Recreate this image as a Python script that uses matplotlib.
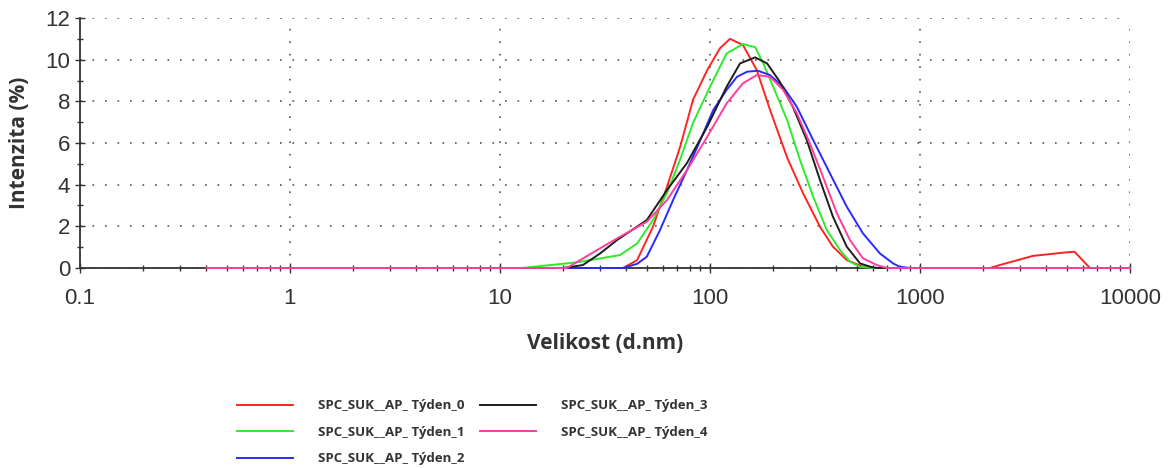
import numpy as np
import matplotlib
matplotlib.use("Agg")
import matplotlib.pyplot as plt
from matplotlib.ticker import FixedLocator, NullFormatter, FuncFormatter

# velikost (d.nm) a intenzita (%) pro jednotlive tydny
x_t0 = [0.4, 38.6, 45, 53.5, 62.4, 72, 83, 97, 111.6, 124.5, 143.6, 167, 193, 233, 277, 334,
        385, 448, 535, 600, 2154, 2395, 3450, 4970, 5440, 6440, 10000]
y_t0 = [0, 0, 0.38, 1.98, 3.9, 5.8, 8.07, 9.5, 10.55, 11.0, 10.7, 9.5, 7.6, 5.3, 3.6, 1.98,
        1.02, 0.38, 0.06, 0, 0, 0.14, 0.58, 0.75, 0.78, 0, 0]

x_t1 = [0.4, 12.7, 23.2, 37.3, 45, 53.5, 62.4, 72, 83, 100, 120, 143.6, 164, 179, 200, 233,
        268, 310, 360, 416, 464, 518, 600, 10000]
y_t1 = [0, 0, 0.27, 0.62, 1.18, 2.3, 3.6, 5.2, 6.96, 8.7, 10.3, 10.75, 10.6, 9.84, 8.7, 7.1,
        5.2, 3.42, 1.82, 0.86, 0.3, 0.06, 0, 0]

x_t2 = [0.4, 38.6, 45, 50, 57.8, 66.7, 77.7, 89.6, 103.6, 120, 134.5, 150, 169, 193, 223, 259,
        310, 372, 448, 535, 644, 744, 800, 894, 10000]
y_t2 = [0, 0, 0.2, 0.54, 1.82, 3.26, 4.7, 6.1, 7.58, 8.55, 9.18, 9.42, 9.47, 9.26, 8.7, 7.74,
        6.14, 4.55, 2.94, 1.66, 0.7, 0.22, 0.06, 0, 0]

x_t3 = [0.4, 20, 24.8, 30, 36.1, 50, 62.4, 77.7, 97, 120, 139, 164, 187, 215, 248, 289, 334,
        385, 448, 518, 579, 622, 10000]
y_t3 = [0, 0, 0.14, 0.7, 1.34, 2.3, 3.74, 5.04, 6.78, 8.7, 9.82, 10.11, 9.82, 8.94, 7.74, 6.14,
        4.22, 2.46, 1.02, 0.22, 0.06, 0, 0]

x_t4 = [0.4, 20.8, 24.1, 29, 36.1, 50, 62.4, 77.7, 97, 120, 143.6, 167, 193, 223, 259, 299, 345,
        402, 464, 535, 622, 697, 10000]
y_t4 = [0, 0, 0.38, 0.86, 1.42, 2.22, 3.26, 4.7, 6.3, 7.9, 8.87, 9.26, 9.18, 8.55, 7.43, 5.98,
        4.38, 2.62, 1.34, 0.46, 0.14, 0, 0]

labels = ["SPC_SUK__AP_ Týden_0", "SPC_SUK__AP_ Týden_1", "SPC_SUK__AP_ Týden_2",
          "SPC_SUK__AP_ Týden_3", "SPC_SUK__AP_ Týden_4"]
colors = ["#ff2424", "#2eea2e", "#2a2aff", "#1e1e1e", "#ff3d9e"]

fig = plt.figure(figsize=(11.71, 4.68), dpi=100)
ax = fig.add_axes([0.0683, 0.4274, 0.8967, 0.5341])

series = [(x_t0, y_t0), (x_t1, y_t1), (x_t2, y_t2), (x_t3, y_t3), (x_t4, y_t4)]
for (xs, ys), c, lab in zip(series, colors, labels):
    ax.plot(xs, ys, color=c, lw=1.4, label=lab, zorder=3, clip_on=False)

ax.set_xscale("log")
ax.set_xlim(0.1, 10000)
ax.set_ylim(0, 12)

ax.xaxis.set_major_locator(FixedLocator([0.1, 1, 10, 100, 1000, 10000]))
ax.xaxis.set_major_formatter(FuncFormatter(lambda v, p: "%g" % v))
ax.xaxis.set_minor_locator(FixedLocator([m * 10.0 ** e for e in range(-1, 4) for m in range(2, 10)]))
ax.xaxis.set_minor_formatter(NullFormatter())
ax.set_yticks([0, 2, 4, 6, 8, 10, 12])
ax.set_yticks([1, 3, 5, 7, 9, 11], minor=True)

ax.grid(True, which="major", linestyle=(0, (1, 6.5)), color="#555555", lw=1.2)
ax.tick_params(which="major", direction="inout", length=7, width=1, color="#333333",
               labelsize=16, labelcolor="#333333")
ax.tick_params(which="minor", direction="inout", length=4, width=1, color="#333333")
ax.tick_params(axis="x", pad=11)
for lbl in ax.get_xticklabels() + ax.get_yticklabels():
    lbl.set_fontfamily("Liberation Sans")

ax.spines["top"].set_visible(False)
ax.spines["right"].set_visible(False)
ax.spines["left"].set_color("#333333")
ax.spines["bottom"].set_color("#333333")
ax.spines["left"].set_linewidth(1.3)
ax.spines["bottom"].set_linewidth(1.3)

ax.set_xlabel("Velikost (d.nm)", fontfamily="Open Sans", fontweight="bold", fontsize=15,
              color="#333333", labelpad=17)
ax.set_ylabel("Intenzita (%)", fontfamily="Open Sans", fontweight="bold", fontsize=15,
              color="#333333", labelpad=11)

leg = fig.legend(loc="upper left", bbox_to_anchor=(0.2024, 0.147), ncol=2, frameon=False,
                 borderpad=0, borderaxespad=0, handlelength=4.24, handletextpad=1.9,
                 columnspacing=1.2, labelspacing=1.03,
                 prop={"family": "Open Sans", "weight": "bold", "size": 9.5})
for t in leg.get_texts():
    t.set_color("#333333")

fig.savefig("out.png", dpi=100)
